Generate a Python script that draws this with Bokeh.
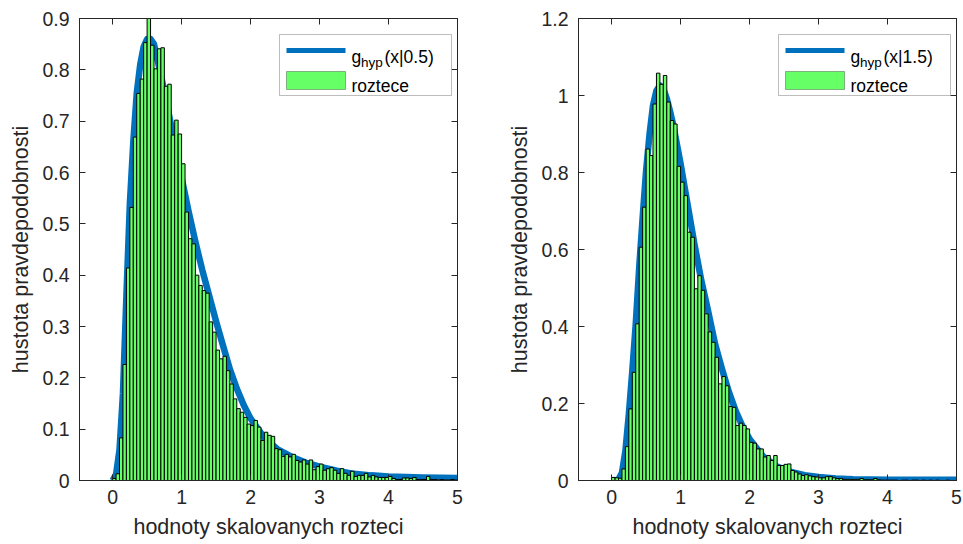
from bokeh.plotting import figure
from bokeh.layouts import row
from bokeh.models import Range1d, FixedTicker, LinearAxis, BoxAnnotation, Label
from bokeh.embed import file_html
from bokeh.resources import INLINE

# ---------------- data ----------------
BIN_WIDTH = 0.05
N_BINS = 100

# histogram (pdf-normalised) of scaled spacings, parameter 0.5
HIST_05 = [0.004, 0.013, 0.083, 0.226, 0.414, 0.532, 0.669, 0.754, 0.782, 0.853,
           0.93, 0.848, 0.802, 0.841, 0.843, 0.768, 0.772, 0.673, 0.702, 0.675,
           0.617, 0.523, 0.471, 0.461, 0.40, 0.38, 0.37, 0.365, 0.309, 0.289,
           0.254, 0.237, 0.242, 0.214, 0.188, 0.159, 0.14, 0.133, 0.123, 0.11,
           0.107, 0.117, 0.104, 0.078, 0.094, 0.088, 0.086, 0.062, 0.06, 0.047,
           0.051, 0.046, 0.051, 0.039, 0.036, 0.04, 0.032, 0.04, 0.021, 0.027,
           0.032, 0.02, 0.023, 0.025, 0.02, 0.014, 0.023, 0.014, 0.01, 0.018,
           0.008, 0.01, 0.01, 0.014, 0.007, 0.01, 0.007, 0.006, 0.006, 0.006,
           0.008, 0.004, 0.002, 0.002, 0.005, 0.005, 0.004, 0.006, 0.002, 0.002,
           0.002, 0.008, 0.002, 0.002, 0.001, 0.002, 0.001, 0.001, 0.002, 0.001]

# histogram of scaled spacings, parameter 1.5
HIST_15 = [0.008, 0.007, 0.006, 0.03, 0.088, 0.186, 0.281, 0.407, 0.606, 0.71,
           0.861, 0.844, 0.978, 1.058, 1.029, 1.052, 0.983, 0.935, 0.926, 0.816,
           0.775, 0.74, 0.645, 0.632, 0.498, 0.532, 0.494, 0.433, 0.386, 0.359,
           0.32, 0.251, 0.27, 0.246, 0.192, 0.19, 0.143, 0.149, 0.143, 0.134,
           0.099, 0.097, 0.082, 0.082, 0.061, 0.065, 0.052, 0.065, 0.039, 0.039,
           0.042, 0.043, 0.026, 0.022, 0.017, 0.013, 0.015, 0.012, 0.01, 0.009,
           0.007, 0.007, 0.01, 0.01, 0.007, 0.005, 0.005, 0.003, 0.003, 0.003,
           0.003, 0.003, 0.005, 0.002, 0.002, 0.002, 0.005, 0.002, 0.001, 0.001,
           0.001, 0.001, 0.001, 0.0, 0.001, 0.001, 0.0, 0.001, 0.001, 0.0,
           0.001, 0.0, 0.001, 0.0, 0.001, 0.0, 0.0, 0.001, 0.0, 0.0]

# theoretical curve g_hyp(x|0.5)
CURVE_05_X = [0, 0.05, 0.1, 0.15, 0.2, 0.25, 0.3, 0.35, 0.4, 0.45, 0.5, 0.55, 0.6,
              0.7, 0.8, 0.9, 1.0, 1.1, 1.2, 1.3, 1.4, 1.5, 1.6, 1.7, 1.8, 1.9, 2.0,
              2.2, 2.4, 2.6, 2.8, 3.0, 3.25, 3.5, 3.75, 4.0, 4.5, 5.0]
CURVE_05_Y = [0, 0.012, 0.06, 0.17, 0.36, 0.54, 0.66, 0.755, 0.81, 0.845, 0.86, 0.86, 0.85,
              0.79, 0.725, 0.655, 0.59, 0.525, 0.465, 0.41, 0.36, 0.31, 0.263, 0.217, 0.179,
              0.147, 0.121, 0.083, 0.06, 0.046, 0.035, 0.027, 0.019, 0.013, 0.01, 0.008,
              0.006, 0.005]

# theoretical curve g_hyp(x|1.5)
CURVE_15_X = [0, 0.05, 0.1, 0.15, 0.2, 0.25, 0.3, 0.35, 0.4, 0.45, 0.5, 0.55, 0.6, 0.65,
              0.7, 0.75, 0.8, 0.85, 0.9, 1.0, 1.1, 1.2, 1.3, 1.4, 1.5, 1.6, 1.7, 1.8, 1.9,
              2.0, 2.2, 2.4, 2.6, 2.8, 3.0, 3.25, 3.5, 4.0, 4.5, 5.0]
CURVE_15_Y = [0, 0, 0.003, 0.02, 0.077, 0.173, 0.286, 0.407, 0.554, 0.684, 0.805, 0.9,
              0.974, 1.013, 1.026, 1.017, 0.992, 0.957, 0.918, 0.823, 0.719, 0.615, 0.52,
              0.44, 0.355, 0.29, 0.23, 0.18, 0.14, 0.108, 0.062, 0.036, 0.022, 0.014,
              0.009, 0.005, 0.003, 0.002, 0.002, 0.002]

X_TICKS = [0, 1, 2, 3, 4, 5]
X_TICK_LABELS = ["0", "1", "2", "3", "4", "5"]
Y_TICKS_05 = [0, 0.1, 0.2, 0.3, 0.4, 0.5, 0.6, 0.7, 0.8, 0.9]
Y_TICK_LABELS_05 = ["0", "0.1", "0.2", "0.3", "0.4", "0.5", "0.6", "0.7", "0.8", "0.9"]
Y_TICKS_15 = [0, 0.2, 0.4, 0.6, 0.8, 1.0, 1.2]
Y_TICK_LABELS_15 = ["0", "0.2", "0.4", "0.6", "0.8", "1", "1.2"]

X_LABEL = "hodnoty skalovanych rozteci"
Y_LABEL = "hustota pravdepodobnosti"
LEGEND_HIST = "roztece"

# ---------------- style ----------------
FONT = "Liberation Sans"
TXT = "#262626"
BLUE = "#0072BD"
GREEN = "#66FF66"
FW, FH = 378, 462
X0, X1 = -0.48, 5.0


def style_axis(ax, ticks, labels, show):
    ax.ticker = FixedTicker(ticks=ticks)
    ax.major_label_overrides = {t: l for t, l in zip(ticks, labels)}
    ax.minor_tick_line_color = None
    ax.major_tick_in = 6
    ax.major_tick_out = 0
    ax.axis_line_color = TXT
    ax.major_tick_line_color = TXT
    ax.major_label_text_color = TXT
    ax.major_label_text_font = FONT
    if show:
        ax.major_label_text_font_size = "19.5px"
        ax.axis_label_text_font = FONT
        ax.axis_label_text_font_size = "21.5px"
        ax.axis_label_text_font_style = "normal"
        ax.axis_label_text_color = TXT
    else:
        ax.major_label_text_font_size = "0px"
        ax.major_label_standoff = 0


def panel(hist, cx, cy, yticks, ylabels, ymax, param, right_border):
    p = figure(frame_width=FW, frame_height=FH,
               x_range=Range1d(X0, X1), y_range=Range1d(0, ymax),
               output_backend="svg", toolbar_location=None,
               min_border_left=79, min_border_right=right_border,
               min_border_top=18, min_border_bottom=64)
    p.grid.visible = False
    p.outline_line_color = TXT
    p.outline_line_width = 1
    p.background_fill_color = "white"
    p.border_fill_color = "white"

    style_axis(p.xaxis[0], X_TICKS, X_TICK_LABELS, True)
    style_axis(p.yaxis[0], yticks, ylabels, True)
    p.xaxis[0].axis_label = X_LABEL
    p.yaxis[0].axis_label = Y_LABEL
    p.xaxis[0].major_label_standoff = 9
    p.xaxis[0].axis_label_standoff = 8
    p.yaxis[0].major_label_standoff = 10
    p.yaxis[0].axis_label_standoff = 6

    top_ax = LinearAxis()
    right_ax = LinearAxis()
    style_axis(top_ax, X_TICKS, ["" for _ in X_TICKS], False)
    style_axis(right_ax, yticks, ["" for _ in yticks], False)
    p.add_layout(top_ax, "above")
    p.add_layout(right_ax, "right")

    # curve (below) and histogram (on top)
    p.line(cx, cy, line_color=BLUE, line_width=6.5, line_join="round")
    lefts = [i * BIN_WIDTH for i in range(N_BINS)]
    rights = [(i + 1) * BIN_WIDTH for i in range(N_BINS)]
    p.quad(left=lefts, right=rights, top=hist, bottom=0,
           fill_color=GREEN, fill_alpha=1.0, line_color="black", line_width=1.0)

    # legend drawn from annotations (to allow a subscript)
    def dx(px):
        return X0 + px * (X1 - X0) / FW

    def dy(py):
        return ymax - py * ymax / FH

    p.add_layout(BoxAnnotation(left=dx(200), right=dx(372), top=dy(16), bottom=dy(77),
                               fill_color="white", fill_alpha=1.0,
                               line_color=TXT, line_width=1))
    p.add_layout(BoxAnnotation(left=dx(207), right=dx(266), top=dy(29.5), bottom=dy(34.5),
                               fill_color=BLUE, fill_alpha=1.0, line_color=None))
    p.add_layout(BoxAnnotation(left=dx(207), right=dx(266), top=dy(53), bottom=dy(71),
                               fill_color=GREEN, fill_alpha=1.0,
                               line_color="black", line_width=1))
    common = dict(text_font=FONT, text_color="#000000", text_baseline="alphabetic")
    p.add_layout(Label(x=dx(272), y=dy(38), text="g", text_font_size="17.5px", **common))
    p.add_layout(Label(x=dx(281.5), y=dy(44), text="hyp", text_font_size="13.5px", **common))
    p.add_layout(Label(x=dx(305), y=dy(38), text="(x|" + param + ")",
                       text_font_size="17.5px", **common))
    p.add_layout(Label(x=dx(272), y=dy(67), text=LEGEND_HIST, text_font_size="17.5px", **common))
    return p


p1 = panel(HIST_05, CURVE_05_X, CURVE_05_Y, Y_TICKS_05, Y_TICK_LABELS_05, 0.9, "0.5", 42)
p2 = panel(HIST_15, CURVE_15_X, CURVE_15_Y, Y_TICKS_15, Y_TICK_LABELS_15, 1.2, "1.5", 7)

layout = row(p1, p2, spacing=0)
open("out.html", "w").write(file_html(layout, INLINE))
